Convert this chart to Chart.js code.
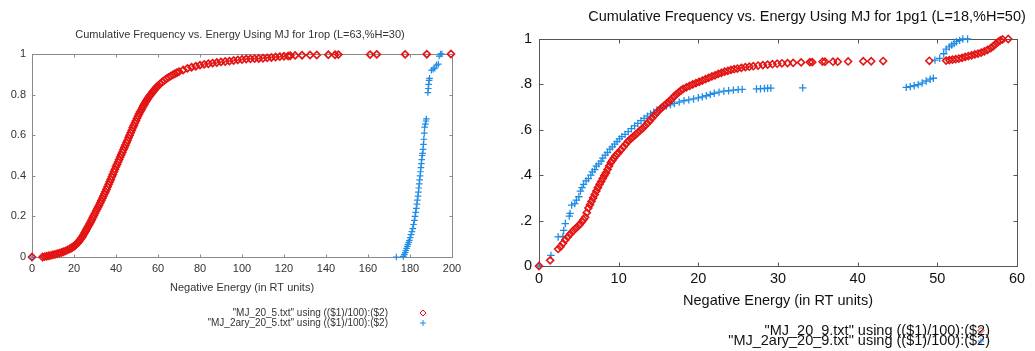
<!DOCTYPE html>
<html>
<head>
<meta charset="utf-8">
<script src="https://cdn.jsdelivr.net/npm/chart.js@4/dist/chart.umd.min.js"></script>
<style>
  body { margin: 0; background: #fff; width: 1035px; height: 351px; overflow: hidden; position: relative; }
  canvas { position: absolute; top: 0; }
  #chartLeft { left: 0; }
  #chartRight { left: 520px; }
</style>
</head>
<body>
<canvas id="chartLeft" width="470" height="351"></canvas>
<canvas id="chartRight" width="515" height="351"></canvas>
<script>
// ---- data: [energy, cumulative frequency] ----
const ropLabels = ['"MJ_20_5.txt" using (($1)/100):($2)', '"MJ_2ary_20_5.txt" using (($1)/100):($2)'];
const pg1Labels = ['"MJ_20_9.txt" using (($1)/100):($2)', '"MJ_2ary_20_9.txt" using (($1)/100):($2)'];

const ropMJ = [
  [0,0],[5,0],[6,0.002],[7,0.004],[8,0.006],[9,0.008],[10,0.011],[11,0.013],[12,0.016],[13,0.019],
  [14,0.022],[15,0.026],[16,0.03],[17,0.035],[18,0.04],[18.5,0.043],[19,0.046],[19.5,0.049],[20,0.053],
  [20.5,0.057],[21,0.062],[21.5,0.067],[22,0.073],[22.5,0.079],[23,0.086],[23.5,0.093],[24,0.1],
  [24.5,0.109],[25,0.118],[25.5,0.127],[26,0.137],[26.5,0.146],[27,0.155],[27.5,0.164],[28,0.174],
  [28.5,0.184],[29,0.195],[29.5,0.205],[30,0.215],[30.5,0.226],[31,0.236],[31.5,0.246],[32,0.256],
  [32.5,0.267],[33,0.278],[33.5,0.289],[34,0.3],[34.5,0.311],[35,0.322],[35.5,0.334],[36,0.346],
  [36.5,0.358],[37,0.37],[37.5,0.382],[38,0.395],[38.5,0.407],[39,0.42],[39.5,0.432],[40,0.445],
  [40.5,0.456],[41,0.468],[41.5,0.48],[42,0.492],[42.5,0.504],[43,0.516],[43.5,0.528],[44,0.54],
  [44.5,0.551],[45,0.563],[45.5,0.575],[46,0.588],[46.5,0.6],[47,0.612],[47.5,0.624],[48,0.637],
  [48.5,0.648],[49,0.66],[49.5,0.671],[50,0.683],[50.5,0.694],[51,0.705],[51.5,0.715],[52,0.724],
  [52.5,0.734],[53,0.744],[53.5,0.753],[54,0.762],[54.5,0.77],[55,0.778],[55.5,0.786],[56,0.793],
  [56.5,0.8],[57,0.806],[57.5,0.813],[58,0.82],[58.5,0.826],[59,0.832],[59.5,0.838],[60,0.843],
  [61,0.853],[62,0.862],[63,0.87],[64,0.878],[65,0.885],[66,0.891],[67,0.897],[68,0.903],[69,0.908],
  [70,0.913],[72,0.921],[74,0.929],[76,0.935],[78,0.94],[80,0.945],[82,0.949],[84,0.952],[86,0.955],
  [88,0.958],[90,0.961],[92,0.963],[94,0.965],[96,0.968],[98,0.971],[100,0.973],[102,0.975],
  [104,0.976],[106,0.977],[108,0.978],[110,0.979],[112,0.981],[114,0.983],[116,0.985],[118,0.987],
  [120,0.989],[122,0.99],[123,0.991],[125.3,0.993],[128.6,0.994],[132.4,0.995],[135.6,0.995],
  [141.1,0.996],[144.3,0.996],[145.9,0.997],[161,0.997],[164.2,0.998],[177.7,0.998],[188,0.999],[199.5,1]
];
const ropMJ2ary = [
  [0,0],[173.5,0],[176.8,0.003],[177.3,0.012],[177.7,0.022],[178,0.032],[178.4,0.042],[178.7,0.052],
  [179,0.062],[179.4,0.072],[179.7,0.082],[180.1,0.095],[180.5,0.11],[180.9,0.125],[181.3,0.14],
  [181.7,0.16],[182.1,0.18],[182.4,0.2],[182.7,0.22],[183,0.24],[183.3,0.26],[183.5,0.28],[183.8,0.3],
  [184,0.32],[184.2,0.34],[184.4,0.36],[184.6,0.38],[184.8,0.4],[185,0.42],[185.2,0.44],[185.4,0.46],
  [185.6,0.48],[185.8,0.5],[186,0.51],[186.2,0.53],[186.4,0.555],[186.6,0.58],[186.8,0.61],[187,0.64],
  [187.3,0.655],[187.6,0.67],[187.8,0.68],[188.5,0.81],[188.7,0.83],[188.9,0.85],[189.1,0.87],
  [189.3,0.88],[190.2,0.92],[191,0.925],[191.8,0.93],[192.6,0.945],[193.5,0.95],[193.9,0.99],
  [194.6,1],[195.2,1]
];
const pg1MJ = [
  [0,0],[1.4,0.025],[2.4,0.075],[2.7,0.085],[3,0.1],[3.3,0.115],[3.6,0.128],[3.9,0.14],[4.2,0.152],
  [4.5,0.162],[4.8,0.172],[5.1,0.182],[5.4,0.195],[5.6,0.205],[5.8,0.215],[6,0.235],[6.2,0.255],
  [6.4,0.27],[6.6,0.285],[6.8,0.3],[7,0.315],[7.2,0.33],[7.4,0.345],[7.6,0.36],[7.8,0.372],[8,0.385],
  [8.2,0.398],[8.4,0.41],[8.6,0.425],[8.8,0.44],[9,0.455],[9.2,0.465],[9.4,0.475],[9.6,0.485],
  [9.8,0.493],[10,0.5],[10.3,0.512],[10.6,0.525],[10.9,0.537],[11.2,0.55],[11.5,0.56],[11.8,0.569],
  [12.1,0.578],[12.4,0.588],[12.7,0.597],[13,0.606],[13.3,0.617],[13.6,0.628],[13.9,0.64],[14.2,0.652],
  [14.5,0.664],[14.8,0.676],[15.1,0.687],[15.4,0.697],[15.7,0.706],[16,0.715],[16.3,0.724],[16.6,0.733],
  [16.9,0.745],[17.2,0.755],[17.5,0.764],[17.8,0.773],[18.1,0.78],[18.5,0.787],[18.9,0.793],[19.3,0.8],
  [19.7,0.806],[20.1,0.811],[20.5,0.817],[20.9,0.823],[21.3,0.829],[21.7,0.835],[22.1,0.84],[22.5,0.846],
  [22.9,0.851],[23.3,0.856],[23.7,0.86],[24.1,0.864],[24.5,0.867],[24.9,0.87],[25.4,0.873],[25.9,0.876],
  [26.4,0.878],[26.9,0.88],[27.5,0.883],[28.1,0.885],[28.7,0.887],[29.3,0.889],[29.9,0.891],[30.5,0.893],
  [31.2,0.894],[31.9,0.895],[32.9,0.897],[34,0.898],[34.3,0.898],[35.6,0.9],[35.9,0.9],[36.9,0.9],
  [37.5,0.9],[38.8,0.901],[40.7,0.902],[41.7,0.902],[43.2,0.903],[49,0.904],[51.1,0.905],[51.5,0.907],
  [51.9,0.909],[52.3,0.911],[52.7,0.914],[53.1,0.917],[53.5,0.921],[53.9,0.925],[54.3,0.928],[54.7,0.932],
  [55.1,0.936],[55.5,0.94],[55.9,0.945],[56.3,0.952],[56.7,0.96],[57,0.968],[57.3,0.977],[57.6,0.986],
  [57.9,0.994],[58.2,0.998],[58.9,1]
];
const pg1MJ2ary = [
  [0,0],[1.5,0.047],[2.4,0.128],[3,0.13],[3.1,0.157],[3.3,0.187],[3.8,0.22],[3.9,0.232],[4.1,0.268],
  [4.5,0.275],[4.7,0.29],[5,0.305],[5.2,0.33],[5.4,0.345],[5.6,0.36],[5.9,0.375],[6.2,0.385],[6.5,0.4],
  [6.7,0.415],[7,0.425],[7.2,0.44],[7.5,0.45],[7.8,0.462],[8,0.475],[8.3,0.488],[8.6,0.5],[8.9,0.515],
  [9.2,0.525],[9.5,0.537],[9.8,0.548],[10.1,0.56],[10.4,0.57],[10.8,0.58],[11.2,0.592],[11.6,0.605],
  [12,0.617],[12.4,0.628],[12.8,0.64],[13.2,0.65],[13.6,0.66],[14,0.67],[14.4,0.677],[14.8,0.687],
  [15.2,0.694],[15.6,0.7],[16,0.705],[16.5,0.71],[17,0.716],[17.6,0.722],[18.2,0.728],[18.8,0.732],
  [19.4,0.736],[20,0.741],[20.5,0.745],[21,0.75],[21.5,0.756],[22,0.761],[22.6,0.766],[23.2,0.77],
  [23.8,0.772],[24.4,0.775],[25,0.777],[25.5,0.778],[27.3,0.78],[27.8,0.781],[28.3,0.782],[28.7,0.783],
  [29.1,0.784],[33.1,0.785],[46.1,0.787],[46.6,0.79],[47.1,0.794],[47.6,0.799],[48.1,0.806],[48.6,0.815],
  [49.1,0.823],[49.5,0.827],[49.7,0.907],[50.3,0.915],[50.8,0.935],[51.1,0.955],[51.5,0.965],[51.8,0.973],
  [52.1,0.98],[52.4,0.988],[52.8,0.994],[53.2,1],[53.8,1]
];

const ropXTicks = [0, 20, 40, 60, 80, 100, 120, 140, 160, 180, 200];
const pg1XTicks = [0, 10, 20, 30, 40, 50, 60];
const freqTicks = [0, 0.2, 0.4, 0.6, 0.8, 1];

const RED = 'rgb(228,20,20)';
const BLUE = 'rgb(30,140,230)';

Chart.defaults.font.family = '"Liberation Sans", Arial, sans-serif';

// box round the plot with inward ticks on all four sides, plus title and legend
const framePlugin = {
  id: 'frame',
  beforeDatasetsDraw(chart, args, opts) {
    const { ctx, chartArea: a, scales } = chart;
    const L = Math.round(a.left) + 0.5, R = Math.round(a.right) + 0.5;
    const T = Math.round(a.top) + 0.5, B = Math.round(a.bottom) + 0.5;
    ctx.save();
    ctx.strokeStyle = opts.color;
    ctx.lineWidth = 1;
    ctx.strokeRect(L, T, R - L, B - T);
    ctx.beginPath();
    scales.x.ticks.forEach(t => {
      const px = Math.round(scales.x.getPixelForValue(t.value)) + 0.5;
      ctx.moveTo(px, B); ctx.lineTo(px, B - opts.tickLen);
      ctx.moveTo(px, T); ctx.lineTo(px, T + opts.tickLen);
    });
    scales.y.ticks.forEach(t => {
      const py = Math.round(scales.y.getPixelForValue(t.value)) + 0.5;
      ctx.moveTo(L, py); ctx.lineTo(L + opts.tickLen, py);
      ctx.moveTo(R, py); ctx.lineTo(R - opts.tickLen, py);
    });
    ctx.stroke();
    ctx.restore();
  },
  afterDraw(chart, args, opts) {
    const ctx = chart.ctx;
    ctx.save();
    ctx.fillStyle = opts.textColor;
    ctx.textBaseline = 'middle';
    ctx.font = opts.titleFont;
    ctx.textAlign = 'center';
    ctx.fillText(opts.title, opts.titleX, opts.titleY);
    ctx.font = opts.legendFont;
    chart.data.datasets.forEach((ds, i) => {
      const ly = opts.legendY + i * opts.legendDy;
      ctx.fillStyle = opts.textColor;
      ctx.textAlign = 'right';
      ctx.fillText(ds.label, opts.legendX, ly);
      ctx.strokeStyle = ds.borderColor;
      ctx.fillStyle = 'rgba(0,0,0,0)';
      ctx.lineWidth = 1;
      Chart.helpers.drawPoint(ctx, { pointStyle: ds.pointStyle, radius: opts.markerR, rotation: 0, borderWidth: 1 }, opts.markerX, ly);
    });
    ctx.restore();
  }
};

function series(label, data, style, color, r, bw) {
  return {
    label: label,
    data: data.map(p => ({ x: p[0], y: p[1] })),
    pointStyle: style,
    pointRadius: r,
    borderColor: color,
    backgroundColor: 'rgba(0,0,0,0)',
    borderWidth: bw,
    showLine: false,
    clip: false
  };
}

function makeChart(id, cfg) {
  return new Chart(document.getElementById(id), {
    type: 'scatter',
    data: { datasets: cfg.datasets },
    options: {
      responsive: false,
      animation: false,
      events: [],
      layout: { padding: { top: cfg.top, right: cfg.right, left: 0, bottom: 0 } },
      plugins: { legend: { display: false }, tooltip: { enabled: false }, frame: cfg.frame },
      scales: {
        x: {
          type: 'linear',
          min: cfg.xTicks[0],
          max: cfg.xTicks[cfg.xTicks.length - 1],
          afterBuildTicks: s => { s.ticks = cfg.xTicks.map(v => ({ value: v })); },
          afterFit: s => { s.height = cfg.xHeight; },
          grid: { display: false, drawTicks: false },
          border: { display: false },
          ticks: { padding: cfg.xPad, color: cfg.textColor, font: { size: cfg.tickSize }, maxRotation: 0, autoSkip: false, callback: v => String(v) },
          title: {
            display: true,
            text: 'Negative Energy (in RT units)',
            color: cfg.textColor,
            font: { size: cfg.axisTitleSize },
            padding: { top: 0, bottom: cfg.axisTitlePad }
          }
        },
        y: {
          type: 'linear',
          min: 0,
          max: 1,
          afterBuildTicks: s => { s.ticks = freqTicks.map(v => ({ value: v })); },
          afterFit: s => { s.width = cfg.yWidth; },
          grid: { display: false, drawTicks: false },
          border: { display: false },
          ticks: { padding: cfg.yPad, color: cfg.textColor, font: { size: cfg.tickSize }, callback: v => String(v) }
        }
      }
    },
    plugins: [framePlugin]
  });
}

makeChart('chartLeft', {
  datasets: [
    series(ropLabels[0], ropMJ, 'rectRot', RED, 3.5, 1.7),
    series(ropLabels[1], ropMJ2ary, 'cross', BLUE, 3.3, 1.2)
  ],
  xTicks: ropXTicks,
  top: 54, right: 18, yWidth: 32, xHeight: 94,
  xPad: 5, yPad: 6, tickSize: 11, axisTitleSize: 11, axisTitlePad: 56,
  textColor: '#333',
  frame: {
    color: '#8a8a8a', tickLen: 3, textColor: '#333',
    title: 'Cumulative Frequency vs. Energy Using MJ for 1rop (L=63,%H=30)',
    titleFont: '11px "Liberation Sans", Arial, sans-serif', titleX: 240, titleY: 35,
    legendFont: '10px "Liberation Sans", Arial, sans-serif',
    legendX: 388, markerX: 423, markerR: 3, legendY: 313, legendDy: 10
  }
});

makeChart('chartRight', {
  datasets: [
    series(pg1Labels[0], pg1MJ, 'rectRot', RED, 3.5, 1.6),
    series(pg1Labels[1], pg1MJ2ary, 'cross', BLUE, 3.7, 1.3)
  ],
  xTicks: pg1XTicks,
  top: 39, right: 18, yWidth: 19, xHeight: 85,
  xPad: 4, yPad: 7, tickSize: 14.5, axisTitleSize: 14.5, axisTitlePad: 41,
  textColor: '#111',
  frame: {
    color: '#555', tickLen: 4, textColor: '#111',
    title: 'Cumulative Frequency vs. Energy Using MJ for 1pg1 (L=18,%H=50)',
    titleFont: '14.5px "Liberation Sans", Arial, sans-serif', titleX: 287, titleY: 17,
    legendFont: '14.5px "Liberation Sans", Arial, sans-serif',
    legendX: 470, markerX: 461, markerR: 3, legendY: 330.5, legendDy: 10.5
  }
});
</script>
</body>
</html>
